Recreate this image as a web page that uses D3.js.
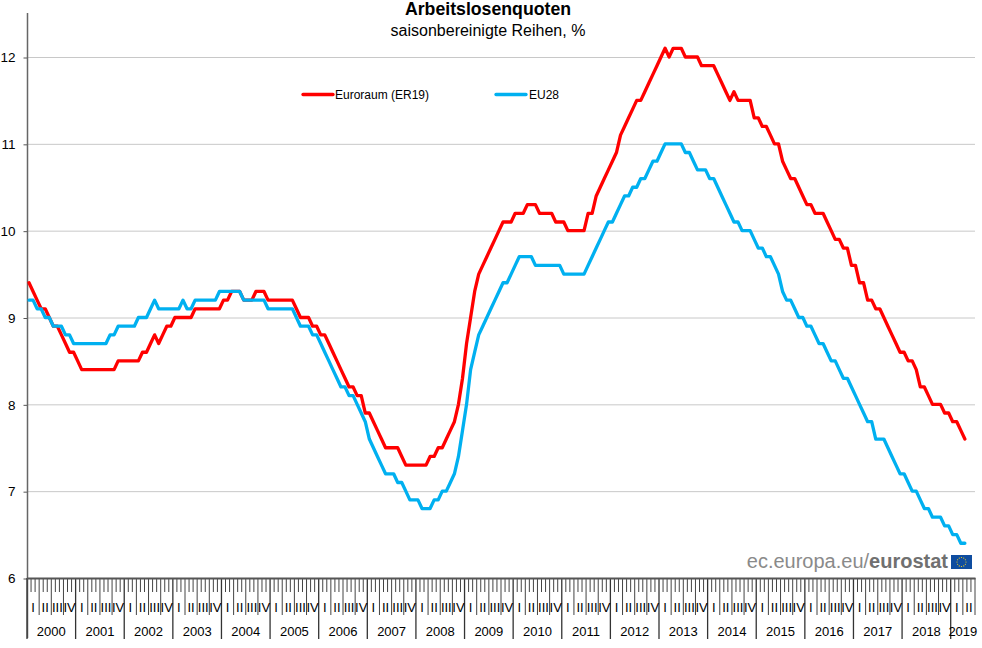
<!DOCTYPE html>
<html><head><meta charset="utf-8">
<script src="https://cdn.jsdelivr.net/npm/d3@7"></script>
<style>
html,body{margin:0;padding:0;background:#fff}
svg{display:block}
text{font-family:"Liberation Sans",Arial,sans-serif;fill:#000}
</style></head><body>
<svg id="c" width="982" height="648"></svg>
<script>
const chartTitle = "Arbeitslosenquoten";
const chartSubtitle = "saisonbereinigte Reihen, %";
const years = [2000,2001,2002,2003,2004,2005,2006,2007,2008,2009,2010,2011,2012,2013,2014,2015,2016,2017,2018,2019];
const quarterLabels = ["I","II","III","IV"];
const yTicks = [6,7,8,9,10,11,12];
const seriesNames = ["Euroraum (ER19)","EU28"];
const euroArea = [
9.4,9.3,9.2,9.1,9.1,9.0,8.9,8.9,8.8,8.7,8.6,8.6,
8.5,8.4,8.4,8.4,8.4,8.4,8.4,8.4,8.4,8.4,8.5,8.5,
8.5,8.5,8.5,8.5,8.6,8.6,8.7,8.8,8.7,8.8,8.9,8.9,
9.0,9.0,9.0,9.0,9.0,9.1,9.1,9.1,9.1,9.1,9.1,9.1,
9.2,9.2,9.3,9.3,9.3,9.2,9.2,9.2,9.3,9.3,9.3,9.2,
9.2,9.2,9.2,9.2,9.2,9.2,9.1,9.0,9.0,9.0,8.9,8.9,
8.8,8.8,8.7,8.6,8.5,8.4,8.3,8.2,8.2,8.1,8.1,7.9,
7.9,7.8,7.7,7.6,7.5,7.5,7.5,7.5,7.4,7.3,7.3,7.3,
7.3,7.3,7.3,7.4,7.4,7.5,7.5,7.6,7.7,7.8,8.0,8.3,
8.7,9.0,9.3,9.5,9.6,9.7,9.8,9.9,10.0,10.1,10.1,10.1,
10.2,10.2,10.2,10.3,10.3,10.3,10.2,10.2,10.2,10.2,10.1,10.1,
10.1,10.0,10.0,10.0,10.0,10.0,10.2,10.2,10.4,10.5,10.6,10.7,
10.8,10.9,11.1,11.2,11.3,11.4,11.5,11.5,11.6,11.7,11.8,11.9,
12.0,12.1,12.0,12.1,12.1,12.1,12.0,12.0,12.0,12.0,11.9,11.9,
11.9,11.9,11.8,11.7,11.6,11.5,11.6,11.5,11.5,11.5,11.5,11.3,
11.3,11.2,11.2,11.1,11.0,11.0,10.8,10.7,10.6,10.6,10.5,10.4,
10.3,10.3,10.2,10.2,10.2,10.1,10.0,9.9,9.9,9.8,9.8,9.6,
9.6,9.4,9.4,9.2,9.2,9.1,9.1,9.0,8.9,8.8,8.7,8.6,
8.6,8.5,8.5,8.4,8.2,8.2,8.1,8.0,8.0,8.0,7.9,7.9,
7.8,7.8,7.7,7.6];
const eu28 = [
9.2,9.2,9.1,9.1,9.0,9.0,8.9,8.9,8.9,8.8,8.8,8.7,
8.7,8.7,8.7,8.7,8.7,8.7,8.7,8.7,8.8,8.8,8.9,8.9,
8.9,8.9,8.9,9.0,9.0,9.0,9.1,9.2,9.1,9.1,9.1,9.1,
9.1,9.1,9.2,9.1,9.1,9.2,9.2,9.2,9.2,9.2,9.2,9.3,
9.3,9.3,9.3,9.3,9.3,9.2,9.2,9.2,9.2,9.2,9.2,9.1,
9.1,9.1,9.1,9.1,9.1,9.1,9.0,8.9,8.9,8.9,8.8,8.8,
8.7,8.6,8.5,8.4,8.3,8.2,8.2,8.1,8.1,8.0,7.9,7.8,
7.6,7.5,7.4,7.3,7.2,7.2,7.2,7.1,7.1,7.0,6.9,6.9,
6.9,6.8,6.8,6.8,6.9,6.9,7.0,7.0,7.1,7.2,7.4,7.7,
8.0,8.4,8.6,8.8,8.9,9.0,9.1,9.2,9.3,9.4,9.4,9.5,
9.6,9.7,9.7,9.7,9.7,9.6,9.6,9.6,9.6,9.6,9.6,9.6,
9.5,9.5,9.5,9.5,9.5,9.5,9.6,9.7,9.8,9.9,10.0,10.1,
10.1,10.2,10.3,10.4,10.4,10.5,10.5,10.6,10.6,10.7,10.8,10.8,
10.9,11.0,11.0,11.0,11.0,11.0,10.9,10.9,10.8,10.7,10.7,10.7,
10.6,10.6,10.5,10.4,10.3,10.2,10.1,10.1,10.0,10.0,10.0,9.9,
9.8,9.8,9.7,9.7,9.6,9.5,9.3,9.2,9.2,9.1,9.0,9.0,
8.9,8.9,8.8,8.7,8.7,8.6,8.5,8.5,8.4,8.3,8.3,8.2,
8.1,8.0,7.9,7.8,7.8,7.6,7.6,7.6,7.5,7.4,7.3,7.2,
7.2,7.1,7.0,7.0,6.9,6.8,6.8,6.7,6.7,6.7,6.6,6.6,
6.5,6.5,6.4,6.4];
const axisMonths = 234; // Jan 2000 to Jun 2019

const svg = d3.select("#c");
const x = d3.scaleLinear().domain([0,axisMonths]).range([27,975]);
const y = d3.scaleLinear().domain([6,12]).range([578,57]);

// gridlines
svg.append("g").selectAll("line").data(yTicks.filter(d=>d>6)).join("line")
  .attr("x1",x(0)).attr("x2",x(axisMonths)).attr("y1",d=>y(d)+.5).attr("y2",d=>y(d)+.5)
  .attr("stroke","#c8c8c8").attr("stroke-width",1);

// y axis
const yAxis = d3.axisLeft(y).tickValues(yTicks).tickSize(4).tickPadding(8).tickFormat(d3.format("d"));
const gy = svg.append("g").attr("transform","translate(27.5,0.5)").call(yAxis);
gy.select(".domain").remove();
gy.selectAll("line").attr("stroke","#555");
gy.selectAll("text").attr("font-size",13.5).style("font-family",'"Liberation Sans",Arial,sans-serif');
svg.append("line").attr("x1",27.5).attr("x2",27.5).attr("y1",13).attr("y2",638).attr("stroke","#666").attr("stroke-width",1.5);

// time axis ticks
const ta = svg.append("g");
const monthIdx = d3.range(0,axisMonths+1);
ta.selectAll("line.m").data(monthIdx).join("line").attr("class","m")
  .attr("x1",d=>x(d)).attr("x2",d=>x(d)).attr("y1",y(6))
  .attr("y2",d=> d%12===0 ? 639 : (d%3===0 ? 615 : 592))
  .attr("stroke",d=> d%12===0 ? "#333" : "#444").attr("stroke-width",d=> d%12===0?1.3:1);
ta.append("line").attr("x1",27).attr("x2",975.5).attr("y1",y(6)+.5).attr("y2",y(6)+.5).attr("stroke","#555").attr("stroke-width",2);

// quarter labels
const quarters = d3.range(0,Math.floor(axisMonths/3));
ta.selectAll("text.q").data(quarters).join("text").attr("class","q")
  .attr("x",d=>x(d*3+1.5)).attr("y",612).attr("text-anchor","middle").attr("font-size",13)
  .text(d=>quarterLabels[d%4]);

// year labels
ta.selectAll("text.y").data(years).join("text").attr("class","y")
  .attr("x",(d,i)=> i===years.length-1 ? x(i*12+3) : x(i*12+6)).attr("y",636).attr("text-anchor","middle").attr("font-size",13)
  .text(d=>d);

// lines
const line = d3.line().x((d,i)=>x(i+.5)).y(d=>y(d)).curve(d3.curveLinear);
const colors = ["#ff0000","#00b0f0"];
// EU28 painted on top, as in the reference overlap at 2000-2004
[euroArea,eu28].forEach((s,k)=>{
  svg.append("path").datum(s).attr("d",line).attr("fill","none").attr("stroke",colors[k])
    .attr("stroke-width",3.3).attr("stroke-linejoin","round").attr("stroke-linecap","round");
});

// legend
const lg = [[303,335],[496,529]];
seriesNames.forEach((n,k)=>{
  svg.append("line").attr("x1",lg[k][0]).attr("x2",lg[k][0]+30).attr("y1",94.5).attr("y2",94.5)
    .attr("stroke",colors[k]).attr("stroke-width",3.3).attr("stroke-linecap","round");
  svg.append("text").attr("x",lg[k][1]).attr("y",98.5).attr("font-size",12).text(n);
});

// titles
svg.append("text").attr("x",488).attr("y",15).attr("text-anchor","middle").attr("font-size",17.7).attr("font-weight","bold").text(chartTitle);
svg.append("text").attr("x",488).attr("y",35.5).attr("text-anchor","middle").attr("font-size",16).text(chartSubtitle);

// eurostat signature
const sig = svg.append("text").attr("x",948).attr("y",568).attr("text-anchor","end").attr("font-size",20);
sig.append("tspan").style("fill","#8a8a8a").text("ec.europa.eu/");
sig.append("tspan").style("fill","#707070").attr("font-weight","bold").text("eurostat");
svg.append("rect").attr("x",951).attr("y",555).attr("width",21).attr("height",14).attr("fill","#0f4da0");
const stars = d3.range(12);
svg.append("g").selectAll("circle").data(stars).join("circle")
  .attr("cx",d=>961.5+4.5*Math.cos(d*Math.PI/6)).attr("cy",d=>562+4.5*Math.sin(d*Math.PI/6))
  .attr("r",.6).attr("fill","#ffd617");
</script>
</body></html>
